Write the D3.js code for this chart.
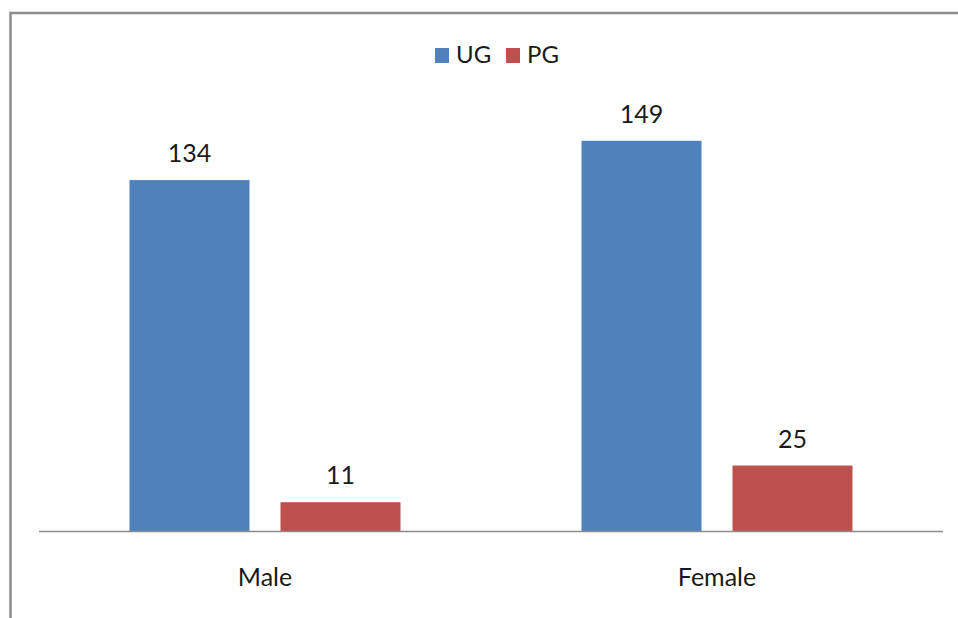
<!DOCTYPE html>
<html>
<head>
<meta charset="utf-8">
<script src="https://cdn.jsdelivr.net/npm/d3@7"></script>
<style>
    body { margin: 0; background: #fff; }
    text { font-family: "Lato", "Open Sans", sans-serif; fill: #1a1a1a; }
</style>
</head>
<body>
<script>
(function() {

    var categories = ["Male", "Female"];
    var seriesNames = ["UG", "PG"];
    var ugValues = [134, 149];
    var pgValues = [11, 25];
    var colors = ["#4f81bd", "#c0504d"];

    var width = 958,
        height = 618;

    var svg = d3.select("body")
        .append("svg")
        .attr("width", width)
        .attr("height", height);

    // chart frame (only top and left edges show in the crop)
    svg.append("path")
        .attr("d", "M10.5,618 L10.5,13 L958,13")
        .attr("fill", "none")
        .attr("stroke", "#8c8c8c")
        .attr("stroke-width", 2.5);

    var x0 = d3.scaleBand()
        .domain(categories)
        .range([39, 943]);

    var x1 = d3.scaleBand()
        .domain(seriesNames)
        .range([90.5, 361.5])
        .paddingInner(31 / 151);

    var y = d3.scaleLinear()
        .domain([0, 160])
        .range([531, 112]);

    var rows = categories.map(function(c, i) {
        return { cat: c, values: [ugValues[i], pgValues[i]] };
    });

    var groups = svg.selectAll(".group")
        .data(rows)
        .enter()
        .append("g")
        .attr("class", "group")
        .attr("transform", function(d) { return "translate(" + x0(d.cat) + ",0)"; });

    var bars = groups.selectAll("rect")
        .data(function(d) {
            return d.values.map(function(v, j) { return { name: seriesNames[j], value: v, idx: j }; });
        })
        .enter();

    bars.append("rect")
        .attr("x", function(d) { return x1(d.name); })
        .attr("width", x1.bandwidth())
        .attr("y", function(d) { return y(d.value); })
        .attr("height", function(d) { return y(0) - y(d.value); })
        .style("fill", function(d) { return colors[d.idx]; });

    bars.append("text")
        .attr("x", function(d) { return x1(d.name) + x1.bandwidth() / 2; })
        .attr("y", function(d) { return y(d.value) - 18; })
        .attr("text-anchor", "middle")
        .style("font-size", "25px")
        .text(function(d) { return d.value; });

    // x axis line
    svg.append("line")
        .attr("x1", 39).attr("x2", 943)
        .attr("y1", 531.5).attr("y2", 531.5)
        .attr("stroke", "#8c8c8c")
        .attr("stroke-width", 1.5);

    svg.selectAll(".catLabel")
        .data(categories)
        .enter()
        .append("text")
        .attr("class", "catLabel")
        .attr("x", function(d) { return x0(d) + x0.bandwidth() / 2; })
        .attr("y", 586)
        .attr("text-anchor", "middle")
        .style("font-size", "25px")
        .text(function(d) { return d; });

    // legend
    var legendX = [435, 506];
    var legend = svg.selectAll(".legend")
        .data(seriesNames)
        .enter()
        .append("g")
        .attr("class", "legend")
        .attr("transform", function(d, i) { return "translate(" + legendX[i] + ",0)"; });

    legend.append("rect")
        .attr("x", 0).attr("y", 48)
        .attr("width", 14).attr("height", 15)
        .style("fill", function(d, i) { return colors[i]; });

    legend.append("text")
        .attr("x", 21)
        .attr("y", 63)
        .style("font-size", "24px")
        .text(function(d) { return d; });

})();
</script>
</body>
</html>
